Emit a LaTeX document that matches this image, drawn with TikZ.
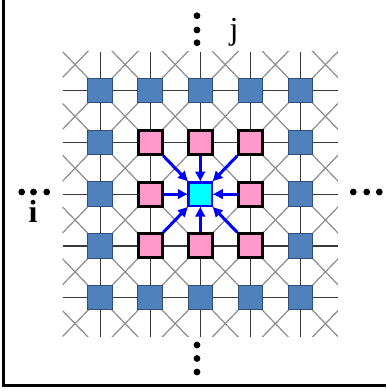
\documentclass[tikz,border=0pt]{standalone}
\usepackage{fontspec}
\setmainfont{Liberation Serif}
\usetikzlibrary{arrows.meta}
\definecolor{bluefill}{HTML}{4F81BD}
\definecolor{bluedark}{HTML}{2F4F7A}
\definecolor{pinkfill}{HTML}{FF99CC}
\definecolor{cyanfill}{HTML}{00FFFF}
\definecolor{arrblue}{HTML}{0000FF}
\definecolor{hvcol}{HTML}{3A3A3A}
\definecolor{dgcol}{HTML}{8C8C8C}
\begin{document}
\begin{tikzpicture}[x=1pt,y=-1pt,
  hv/.style={draw=hvcol, line width=1.2pt},
  dg/.style={draw=dgcol, line width=1.2pt},
  bluebox/.style={draw=bluedark, fill=bluefill, line width=1pt, minimum size=24.5pt, inner sep=0pt},
  pinkbox/.style={draw=black, fill=pinkfill, line width=3pt, minimum size=24pt, inner sep=0pt},
  cyanbox/.style={draw=arrblue, fill=cyanfill, line width=2.5pt, minimum size=23.5pt, inner sep=0pt},
  arr/.style={draw=arrblue, line width=3pt, -{Triangle[length=9.5pt,width=9.5pt]}},
  dotmark/.style={fill=black},
  lbl/.style={inner sep=0pt, anchor=base, font=\fontsize{32}{34}\selectfont}]
\useasboundingbox (0,0) rectangle (386,391);
\draw[line width=3pt] (3,0) -- (3,385) -- (386,385);
\begin{scope}[shift={(100.1,90.5)}, x=50.08pt, y=-51.8pt]
  \begin{scope}
    \clip (-0.75,-0.75) rectangle (4.75,4.75);
    \foreach \k in {-6,...,6} \draw[dg] (\k-1,-1) -- (\k+7,7);
    \foreach \k in {-2,...,10} \draw[dg] (\k+1,-1) -- (\k-7,7);
  \end{scope}
  \foreach \j in {0,...,4} \draw[hv] (-0.75,\j) -- (4.75,\j);
  \foreach \i in {0,...,4} \draw[hv] (\i,-0.75) -- (\i,4.75);
  \foreach \i/\j in {0/0,1/0,2/0,3/0,4/0,0/1,4/1,0/2,4/2,0/3,4/3,0/4,1/4,2/4,3/4,4/4}
    \node[bluebox] (b\i\j) at (\i,\j) {};
  \foreach \i/\j in {1/1,2/1,3/1,1/2,3/2,1/3,2/3,3/3}
    \node[pinkbox] (p\i\j) at (\i,\j) {};
  \node[cyanbox] (c) at (2,2) {};
  \foreach \i/\j in {1/1,2/1,3/1,1/2,3/2,1/3,2/3,3/3}
    \draw[arr] (p\i\j) -- (c);
\end{scope}
% dots
\foreach \y in {15.7,30,42.7} \fill[dotmark] (197,\y) circle (3.4);
\foreach \y in {345,358.5,372} \fill[dotmark] (197,\y) circle (3.4);
\foreach \x in {21.7,33.5,46.7} \fill[dotmark] (\x,192) circle (3.4);
\foreach \x in {353.3,366.7,379.3} \fill[dotmark] (\x,192) circle (3.4);
\node[lbl] (jl) at (234,39) {j};
\node[lbl] (il) at (33,222) {\bfseries i};
\end{tikzpicture}
\end{document}
